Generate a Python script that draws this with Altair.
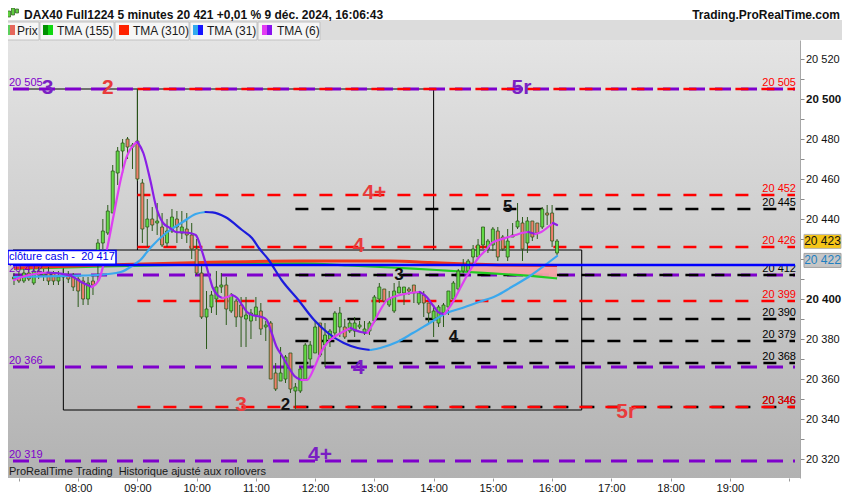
import altair as alt
import pandas as pd

FONT = "Liberation Sans"
W, H = 792, 438
X_DOMAIN = [414, 1206]          # minutes since midnight (06:54 .. 20:06)
Y_DOMAIN = [20310.5, 20529.5]

# ---------------- price bars : 5 minutes, first bar at 06:55 ----------------
first_bar = 415
bar_step = 5
opens = [20410, 20411, 20409, 20413, 20408, 20414, 20412, 20413, 20413, 20409,
         20411, 20412, 20411, 20410, 20409, 20400, 20409, 20418, 20428, 20433,
         20443, 20463, 20474, 20480, 20476, 20479, 20458, 20436, 20440, 20438,
         20436, 20428, 20434, 20440, 20433, 20435, 20432, 20425, 20413, 20391,
         20396, 20400, 20406, 20407, 20394, 20399, 20397, 20390, 20389, 20392,
         20394, 20386, 20388, 20363, 20359, 20360, 20373, 20354, 20354, 20360,
         20370, 20373, 20388, 20377, 20380, 20383, 20386, 20386, 20384, 20384,
         20386, 20383, 20384, 20389, 20400, 20405, 20397, 20394, 20403, 20403,
         20405, 20407, 20398, 20402, 20398, 20390, 20388, 20393, 20396, 20400,
         20405, 20414, 20414, 20421, 20421, 20427, 20425, 20427, 20434, 20431,
         20421, 20432, 20436, 20438, 20428, 20439, 20438, 20436, 20443, 20443,
         20423]
highs = [20413, 20414, 20415, 20415, 20415, 20416, 20415, 20416, 20414, 20414,
         20415, 20414, 20413, 20411, 20411, 20411, 20412, 20430, 20440, 20447,
         20467, 20476, 20480, 20481, 20478, 20505, 20460, 20450, 20446, 20448,
         20443, 20440, 20445, 20444, 20444, 20443, 20438, 20430, 20417, 20404,
         20404, 20414, 20413, 20411, 20403, 20400, 20401, 20401, 20395, 20401,
         20398, 20389, 20389, 20368, 20376, 20372, 20373, 20358, 20366, 20378,
         20379, 20389, 20388, 20388, 20385, 20394, 20396, 20390, 20390, 20391,
         20389, 20389, 20389, 20402, 20408, 20405, 20404, 20408, 20409, 20406,
         20406, 20407, 20404, 20404, 20398, 20397, 20397, 20398, 20404, 20409,
         20415, 20420, 20420, 20427, 20430, 20436, 20430, 20436, 20436, 20432,
         20435, 20438, 20448, 20441, 20441, 20439, 20438, 20446, 20447, 20447,
         20430]
lows = [20407, 20408, 20408, 20409, 20407, 20410, 20409, 20407, 20407, 20407,
        20409, 20408, 20404, 20396, 20397, 20397, 20402, 20409, 20425, 20432,
        20443, 20457, 20463, 20470, 20465, 20459, 20428, 20426, 20434, 20432,
        20426, 20426, 20433, 20428, 20430, 20428, 20420, 20412, 20390, 20375,
        20393, 20392, 20403, 20387, 20393, 20386, 20376, 20376, 20380, 20389,
        20382, 20379, 20360, 20354, 20359, 20358, 20353, 20345, 20353, 20359,
        20366, 20373, 20371, 20366, 20376, 20381, 20381, 20380, 20383, 20381,
        20385, 20382, 20382, 20388, 20398, 20398, 20396, 20393, 20403, 20397,
        20402, 20398, 20397, 20391, 20388, 20381, 20386, 20386, 20392, 20399,
        20404, 20413, 20413, 20417, 20421, 20425, 20423, 20424, 20419, 20424,
        20419, 20431, 20435, 20419, 20423, 20429, 20430, 20435, 20437, 20426,
        20422]
closes = [20411, 20409, 20413, 20410, 20414, 20412, 20413, 20409, 20409, 20411,
          20412, 20410, 20406, 20404, 20400, 20408, 20407, 20428, 20434, 20444,
          20464, 20474, 20478, 20476, 20477, 20460, 20435, 20440, 20437, 20439,
          20427, 20434, 20441, 20436, 20436, 20432, 20425, 20413, 20391, 20395,
          20402, 20406, 20407, 20395, 20402, 20391, 20391, 20392, 20393, 20396,
          20385, 20387, 20360, 20355, 20363, 20371, 20355, 20356, 20365, 20377,
          20377, 20386, 20372, 20382, 20384, 20393, 20393, 20381, 20388, 20388,
          20387, 20385, 20388, 20401, 20406, 20399, 20400, 20404, 20406, 20406,
          20404, 20403, 20403, 20398, 20393, 20394, 20396, 20397, 20404, 20408,
          20414, 20417, 20419, 20425, 20427, 20436, 20429, 20435, 20421, 20425,
          20429, 20431, 20439, 20425, 20439, 20431, 20433, 20445, 20442, 20429,
          20429]

# ---------------- moving averages ----------------
tma6_min = [415, 426, 439, 449, 456, 473, 483, 494, 501, 509, 516, 523, 529, 536, 540, 546,
            553, 559, 566, 573, 579, 586, 593, 599, 606, 613, 616, 621, 626, 631, 636, 641,
            646, 651, 656, 666, 671, 676, 681, 686, 693, 699, 706, 712, 719, 726, 733, 739,
            746, 756, 766, 773, 779, 786, 793, 806, 816, 826, 833, 839, 846, 851, 859, 866,
            873, 879, 886, 893, 899, 906, 916, 923, 929, 936, 943, 949, 956, 961, 965]
tma6_val = [20409.5, 20411.5, 20412.75, 20413.25, 20413, 20411.5, 20408.5, 20406, 20409.5,
            20424.5, 20442, 20459.5, 20471, 20477, 20478.5, 20473, 20459.5, 20446, 20438,
            20435.5, 20433.5, 20433.3, 20433, 20432, 20423, 20411, 20406, 20402, 20400.5,
            20401, 20402, 20400.5, 20397, 20393.5, 20392, 20391, 20389.5, 20383, 20376,
            20372, 20366, 20361.5, 20359.5, 20359.6, 20365.5, 20373.5, 20378.5, 20381,
            20383, 20385.5, 20383.5, 20383, 20388, 20394.5, 20399.5, 20402, 20403, 20403.5,
            20401, 20397, 20393, 20392.5, 20398, 20404.5, 20411, 20416, 20421, 20424.5,
            20428, 20429.5, 20431, 20432, 20433, 20433.5, 20432.5, 20433.5, 20436, 20438,
            20437]
tma31_min = [415, 446, 473, 499, 523, 536, 543, 553, 569, 586, 599, 609, 616, 629, 646, 656,
             663, 673, 686, 703, 719, 733, 749, 763, 776, 786, 803, 819, 836, 853, 869, 886,
             903, 919, 936, 953, 965]
tma31_val = [20411, 20411.3, 20411.6, 20412, 20413.5, 20417, 20419.5, 20425.5, 20433, 20438.5,
             20442.5, 20443.5, 20443.3, 20441, 20434.5, 20430.5, 20425.5, 20419.5, 20409.5,
             20399.5, 20389.5, 20383, 20378, 20375.5, 20374.5, 20375.5, 20378.5, 20383,
             20388, 20393, 20395.5, 20398.5, 20401.5, 20406, 20411, 20417, 20421.5]
tma155_min = [415, 506, 606, 706, 753, 786, 819, 853, 886, 919, 946, 965]
tma155_val = [20415, 20416.3, 20417.3, 20417.8, 20416.8, 20416, 20415.2, 20414.2, 20413.2,
              20412.2, 20411.2, 20410.3]
tma310_min = [415, 506, 606, 706, 796, 836, 873, 906, 965]
tma310_val = [20415.5, 20417, 20418.3, 20419, 20419, 20418.3, 20417.5, 20417, 20416.75]
band_min = [869, 886, 906, 926, 946, 965]
band_top = [20417.5, 20417.3, 20417, 20416.9, 20416.8, 20416.75]
band_bot = [20413.6, 20413.2, 20412.5, 20411.8, 20411.2, 20410.3]

# ---------------- drawn levels ----------------
red_levels = [20505, 20452, 20426, 20399, 20346]
black_levels = [20445, 20412, 20390, 20379, 20368, 20346]
purple_levels = [20505, 20412, 20366, 20319]
red_from, black_from = 540, 700          # 09:00 and 11:40
cash_close = 20417
box_lines = [  # (from min, to min, from value, to value)
    (414, 840, 20505, 20505), (540, 540, 20505, 20424.5), (840, 840, 20505, 20424.5),
    (414, 990, 20424.5, 20424.5), (465, 465, 20424.5, 20344.5), (990, 990, 20424.5, 20344.5),
    (465, 990, 20344.5, 20344.5)]

ann_text = ["3", "2", "5r", "4+", "4", "5", "3", "4", "4", "3", "2", "5r", "4+"]
ann_min = [449, 510, 929, 780, 764, 915, 805, 860, 764, 645, 690, 1035, 725]
ann_val = [20505.5, 20505.5, 20505.5, 20453, 20426.5, 20446, 20412, 20381, 20365.5,
           20347, 20347, 20343.5, 20322]
ann_kind = ["purple", "red", "purple", "red", "red", "black", "black", "black", "purple",
            "red", "black", "red", "purple"]

tab_names = ["Prix", "TMA (155)", "TMA (310)", "TMA (31)", "TMA (6)"]
tab_colors = [("#5ccf5c", "#e5675c"), ("#009000", "#10d810"), ("#ff2200", "#ff2200"),
              ("#33aaee", "#1414ff"), ("#e23cf2", "#8a12ee")]
HEADER = "DAX40 Full1224 5 minutes 20 421 +0,01 % 9 déc. 2024, 16:06:43"
SITE = "Trading.ProRealTime.com"
FOOT = "ProRealTime Trading \u00a0Historique ajusté aux rollovers"
CASH = "clôture cash - \u00a020 417"
last_price, last_tag2 = "20 423", "20 422"

# ---------------- styles ----------------
RED, BLACK, PURPLE, BLUE = "#ff0000", "#000000", "#7f00cc", "#0000ff"
TXT_COL = {"purple": "#7a1fc4", "red": "#e83b3b", "black": "#111111"}
TXT_SIZE = {"purple": 21, "red": 21, "black": 17}
WICK = "#2b5a1a"

XS = alt.Scale(domain=X_DOMAIN, nice=False, zero=False)
YS = alt.Scale(domain=Y_DOMAIN, nice=False, zero=False)
x_axis = alt.Axis(
    values=list(range(420, 1201, 60)),
    labelExpr="(datum.value <= 420 || datum.value >= 1200) ? '' : "
              "((datum.value < 600 ? '0' : '') + floor(datum.value / 60) + ':00')",
    title=None, grid=False, domain=False, tickColor="#9a9a9a", tickSize=3,
    labelFont=FONT, labelFontSize=11, labelColor="#111111", labelPadding=1,
    labelFlush=False, labelOverlap=False)
# the 20 420 label sits under the two price tags, so it is left blank
y_axis = alt.Axis(
    orient="right", values=list(range(20320, 20521, 10)),
    labelExpr="(datum.value % 20 == 0 && datum.value != 20420) ? "
              "'20 ' + substring(toString(datum.value), 2, 5) : ''",
    labelFontWeight={"condition": {"test": "datum.value % 100 == 0", "value": "bold"},
                     "value": "normal"},
    labelFontSize={"condition": {"test": "datum.value % 100 == 0", "value": 11.5},
                   "value": 11},
    title=None, grid=False, domainColor="#a8a8a8", tickColor="#8a8a8a", tickSize=4,
    labelFont=FONT, labelColor="#111111", labelPadding=1.5, labelOverlap=False,
    labelFlush=False)


def X(f):
    return alt.X(f"{f}:Q", scale=XS, axis=x_axis)


def Y(f):
    return alt.Y(f"{f}:Q", scale=YS, axis=y_axis)


def YD(v):
    return alt.Y(datum=v, type="quantitative", scale=YS, axis=y_axis)


one = pd.DataFrame({"k": [0]})
layers = []

# background gradient of the plot
grad = {"gradient": "linear", "x1": 0, "y1": 0, "x2": 0, "y2": 1,
        "stops": [{"offset": 0, "color": "#e4e4e4"}, {"offset": 1, "color": "#b2b2b2"}]}
layers.append(alt.Chart(one).mark_rect(fill=grad).encode(
    x=alt.value(0), x2=alt.value(W), y=alt.value(0), y2=alt.value(H)))

# header / tab strip
layers.append(alt.Chart(one).mark_rect(fill="#dcdcdc").encode(
    x=alt.value(-8), x2=alt.value(W + 42), y=alt.value(-20), y2=alt.value(0)))
tab_x0 = [-5, 32, 107, 182, 250]
tab_x1 = [31, 106, 181, 249, 312]
sw_x0 = [-3, 35, 111, 185, 254]
txt_x = [9, 49, 125, 199, 269]
for i, name in enumerate(tab_names):
    layers.append(alt.Chart(one).mark_rect(fill="#f6f6f6", stroke="#c2c2c2", strokeWidth=1).encode(
        x=alt.value(tab_x0[i]), x2=alt.value(tab_x1[i]), y=alt.value(-18), y2=alt.value(0)))
    layers.append(alt.Chart(one).mark_rect(fill=tab_colors[i][0]).encode(
        x=alt.value(sw_x0[i]), x2=alt.value(sw_x0[i] + 5), y=alt.value(-15), y2=alt.value(-5)))
    layers.append(alt.Chart(one).mark_rect(fill=tab_colors[i][1]).encode(
        x=alt.value(sw_x0[i] + 5), x2=alt.value(sw_x0[i] + 10), y=alt.value(-15), y2=alt.value(-5)))
    layers.append(alt.Chart(one).mark_text(text=name, font=FONT, fontSize=12, color="#1a1a1a",
                                           align="left", baseline="middle").encode(
        x=alt.value(txt_x[i]), y=alt.value(-9)))
layers.append(alt.Chart(one).mark_text(text=HEADER, font=FONT, fontSize=12, fontWeight="bold",
                                       color="#111111", align="left", baseline="middle").encode(
    x=alt.value(16), y=alt.value(-25.5)))
layers.append(alt.Chart(one).mark_text(text=SITE, font=FONT, fontSize=12, fontWeight="bold",
                                       color="#111111", align="right", baseline="middle").encode(
    x=alt.value(W + 40), y=alt.value(-25.5)))
for k, (xx, top, bot) in enumerate([(1, -29, -23), (5, -32, -25), (9, -31, -27)]):
    layers.append(alt.Chart(one).mark_rect(fill="#5fcf3f", stroke=WICK, strokeWidth=0.7).encode(
        x=alt.value(xx - 1.5), x2=alt.value(xx + 1.5), y=alt.value(top), y2=alt.value(bot)))

# black rectangles
box_df = pd.DataFrame(box_lines, columns=["m", "m2", "v", "v2"])
layers.append(alt.Chart(box_df).mark_rule(color="#000000", strokeWidth=1).encode(
    x=X("m"), x2="m2", y=Y("v"), y2="v2"))


# dashed levels
def level_df(vals, start):
    return pd.DataFrame({"v": vals, "m0": [start] * len(vals), "m1": [X_DOMAIN[1]] * len(vals)})


layers.append(alt.Chart(level_df(purple_levels, X_DOMAIN[0])).mark_rule(
    color=PURPLE, strokeWidth=2.8, strokeDash=[16, 10]).encode(x=X("m0"), x2="m1", y=Y("v")))
layers.append(alt.Chart(level_df(black_levels, black_from)).mark_rule(
    color=BLACK, strokeWidth=2.5, strokeDash=[13, 13]).encode(x=X("m0"), x2="m1", y=Y("v")))
layers.append(alt.Chart(level_df(red_levels, red_from)).mark_rule(
    color=RED, strokeWidth=2.5, strokeDash=[13, 13]).encode(x=X("m0"), x2="m1", y=Y("v")))

# long moving averages and their band
band_df = pd.DataFrame({"m": band_min, "top": band_top, "bot": band_bot})
layers.append(alt.Chart(band_df).mark_area(color="#f3a3a6", opacity=0.95).encode(
    x=X("m"), y=Y("top"), y2="bot"))
layers.append(alt.Chart(pd.DataFrame({"m": tma155_min, "v": tma155_val})).mark_line(
    color="#22cc22", strokeWidth=2.2, interpolate="monotone").encode(x=X("m"), y=Y("v")))
layers.append(alt.Chart(pd.DataFrame({"m": tma310_min, "v": tma310_val})).mark_line(
    color="#f2381a", strokeWidth=3, interpolate="monotone").encode(x=X("m"), y=Y("v")))

# candles
rows = []
for i in range(len(opens)):
    o, h, l, c = opens[i], highs[i], lows[i], closes[i]
    lo, hi = min(o, c), max(o, c)
    if hi - lo < 0.6:
        mid = (o + c) / 2
        lo, hi = mid - 0.35, mid + 0.35
    rows.append(dict(m=first_bar + bar_step * i, h=h, l=l, lo=lo, hi=hi,
                     dir="up" if c >= o else "down"))
cdf = pd.DataFrame(rows)
layers.append(alt.Chart(cdf).mark_rule(color=WICK, strokeWidth=1).encode(
    x=X("m"), y=Y("l"), y2="h"))
layers.append(alt.Chart(cdf).mark_bar(size=3, stroke=WICK, strokeWidth=0.8).encode(
    x=X("m"), y=Y("lo"), y2="hi",
    fill=alt.Fill("dir:N", scale=alt.Scale(domain=["up", "down"], range=["#63db45", "#f07f6b"]),
                  legend=None)))


# short moving averages, coloured by slope
def runs(ms, vs, up, down):
    out, run, prev = [], 0, None
    for i in range(len(ms) - 1):
        d = up if vs[i + 1] >= vs[i] else down
        if d != prev:
            run += 1
            out.append(dict(m=ms[i], v=vs[i], run=run, col=d))
            prev = d
        out.append(dict(m=ms[i + 1], v=vs[i + 1], run=run, col=d))
    return pd.DataFrame(out)


for ms, vs, up, down in [(tma31_min, tma31_val, "#3aa8ee", "#1c1cdc"),
                         (tma6_min, tma6_val, "#de3ff2", "#8a1ee6")]:
    layers.append(alt.Chart(runs(ms, vs, up, down)).mark_line(
        strokeWidth=2.2, interpolate="monotone", strokeCap="round").encode(
        x=X("m"), y=Y("v"), detail="run:N", order="m:Q",
        color=alt.Color("col:N", scale=None)))

# level labels
right_lab = pd.DataFrame(
    [dict(v=v, lab="20 " + str(v)[2:], col="#000000") for v in black_levels] +
    [dict(v=v, lab="20 " + str(v)[2:], col="#ff0000") for v in red_levels])
left_lab = pd.DataFrame([dict(v=v, lab="20 " + str(v)[2:], col="#7f00cc") for v in purple_levels])
layers.append(alt.Chart(right_lab).mark_text(
    align="right", baseline="alphabetic", dy=-3, font=FONT, fontSize=11).encode(
    x=alt.value(W - 4), y=Y("v"), text="lab:N", color=alt.Color("col:N", scale=None)))
layers.append(alt.Chart(left_lab).mark_text(
    align="left", baseline="alphabetic", dy=-3, font=FONT, fontSize=11).encode(
    x=alt.value(1), y=Y("v"), text="lab:N", color=alt.Color("col:N", scale=None)))

# close of the cash session
layers.append(alt.Chart(pd.DataFrame({"v": [cash_close], "m0": [X_DOMAIN[0]], "m1": [X_DOMAIN[1]]}))
              .mark_rule(color=BLUE, strokeWidth=2.5).encode(x=X("m0"), x2="m1", y=Y("v")))
layers.append(alt.Chart(one).mark_rect(fill="white", stroke=BLUE, strokeWidth=1.5).encode(
    x=alt.value(0), x2=alt.value(108), y=YD(cash_close + 0.4), y2=alt.Y2(datum=cash_close + 7.3)))
layers.append(alt.Chart(one).mark_text(
    text=CASH, font=FONT, fontSize=11, color="#0000ee",
    align="left", baseline="middle").encode(x=alt.value(1), y=YD(cash_close + 3.8)))

# wave labels
ann_df = pd.DataFrame({"lab": ann_text, "m": ann_min, "v": ann_val,
                       "col": [TXT_COL[k] for k in ann_kind], "sz": [TXT_SIZE[k] for k in ann_kind]})
layers.append(alt.Chart(ann_df).mark_text(fontWeight="bold", font=FONT, align="center",
                                          baseline="middle").encode(
    x=X("m"), y=Y("v"), text="lab:N", color=alt.Color("col:N", scale=None),
    size=alt.Size("sz:Q", scale=None)))

# price tags on the axis
layers.append(alt.Chart(one).mark_rect(fill="#f5c518", stroke="#b5b5b5", strokeWidth=1).encode(
    x=alt.value(W + 4), x2=alt.value(W + 41), y=YD(20432.3), y2=alt.Y2(datum=20425.3)))
layers.append(alt.Chart(one).mark_text(text=last_price, font=FONT, fontSize=12, color="#111111",
                                       align="center", baseline="middle").encode(
    x=alt.value(W + 22.5), y=YD(20428.8)))
layers.append(alt.Chart(one).mark_rect(fill="#c6c6c6", stroke="#a0a0a0", strokeWidth=1).encode(
    x=alt.value(W + 4), x2=alt.value(W + 41), y=YD(20422.8), y2=alt.Y2(datum=20415.8)))
layers.append(alt.Chart(one).mark_text(text=last_tag2, font=FONT, fontSize=12, color="#1e7fc0",
                                       align="center", baseline="middle").encode(
    x=alt.value(W + 22.5), y=YD(20419.3)))

# footer note
layers.append(alt.Chart(one).mark_text(text=FOOT, font=FONT, fontSize=11, color="#1a1a1a",
                                       align="left", baseline="middle").encode(
    x=alt.value(1), y=alt.value(H - 6)))

chart = alt.layer(*layers).properties(
    width=W, height=H,
    autosize=alt.AutoSizeParams(type="none"),
    padding={"left": 0, "top": 32, "right": 42, "bottom": 14},
    background="white",
).configure_view(stroke=None)

chart.save("out.html", embed_options={"renderer": "svg", "actions": False})
